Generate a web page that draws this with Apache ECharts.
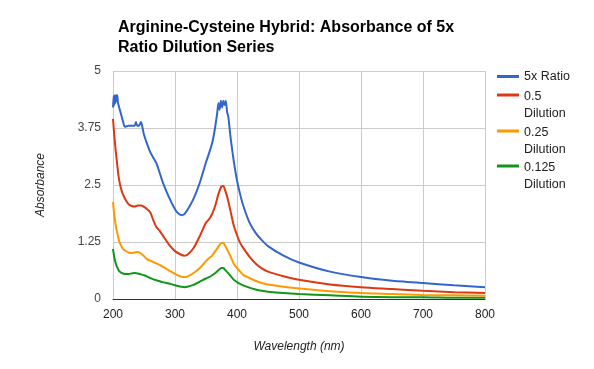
<!DOCTYPE html>
<html>
<head>
<meta charset="utf-8">
<script src="https://cdn.jsdelivr.net/npm/echarts@6/dist/echarts.min.js"></script>
<style>html,body{margin:0;padding:0;background:#fff}#c{width:594px;height:369px}</style>
</head>
<body>
<div id="c"></div>
<script>
// Blue series (noisy) has its own wavelength grid
var blueWl = [200,201,202,203,204,205,206,207,208,210,212,214,216,218,220,225,230,235,237,239,242,245,247,250,255,260,265,270,275,280,290,300,305,310,315,320,330,340,350,355,360,364,368,370,372,374,376,378,380,382,384,386,390,395,400,405,410,420,430,440,450,475,500,550,600,650,700,750,800];
var blueVals = [4.2,4.45,4.25,4.47,4.3,4.47,4.35,4.47,4.3,4.2,4.1,4.0,3.9,3.8,3.78,3.8,3.8,3.8,3.88,3.8,3.8,3.88,3.8,3.6,3.4,3.22,3.1,2.98,2.78,2.57,2.24,1.97,1.88,1.84,1.86,1.95,2.2,2.55,3.0,3.2,3.42,3.7,4.07,4.3,4.15,4.35,4.2,4.35,4.25,4.35,4.1,4.0,3.5,3.0,2.6,2.3,2.05,1.68,1.45,1.29,1.16,0.95,0.8,0.6,0.48,0.4,0.35,0.3,0.26];

var wl = [200,202,204,206,208,210,213,216,220,225,230,235,240,245,250,255,260,265,270,275,280,290,300,310,315,320,330,340,350,355,360,365,370,375,378,380,385,390,395,400,405,410,420,430,440,450,475,500,550,600,650,700,750,800];
var redVals = [3.95,3.6,3.3,3.05,2.8,2.6,2.42,2.3,2.18,2.08,2.04,2.03,2.05,2.05,2.02,1.97,1.9,1.73,1.58,1.5,1.4,1.2,1.05,0.97,0.95,0.97,1.12,1.38,1.67,1.75,1.87,2.05,2.3,2.47,2.48,2.42,2.2,1.9,1.6,1.4,1.23,1.12,0.93,0.78,0.67,0.6,0.5,0.42,0.32,0.26,0.22,0.18,0.15,0.13];
var orangeVals = [2.13,1.85,1.65,1.5,1.38,1.27,1.17,1.1,1.06,1.02,1.01,1.02,1.03,1.0,0.94,0.87,0.84,0.81,0.78,0.75,0.71,0.63,0.55,0.49,0.48,0.49,0.57,0.68,0.83,0.9,0.95,1.05,1.15,1.23,1.23,1.19,1.06,0.92,0.77,0.68,0.6,0.53,0.46,0.4,0.35,0.32,0.27,0.23,0.17,0.13,0.11,0.09,0.08,0.07];
var greenVals = [1.1,0.92,0.8,0.72,0.66,0.61,0.58,0.56,0.55,0.55,0.56,0.57,0.56,0.54,0.52,0.49,0.46,0.43,0.41,0.39,0.37,0.34,0.3,0.27,0.26,0.27,0.31,0.38,0.45,0.48,0.52,0.57,0.63,0.68,0.68,0.65,0.58,0.5,0.42,0.37,0.33,0.3,0.25,0.21,0.18,0.16,0.13,0.11,0.08,0.05,0.04,0.04,0.03,0.03];

var seriesNames = ['5x Ratio','0.5 Dilution','0.25 Dilution','0.125 Dilution'];
var legendLines = [['5x Ratio'],['0.5','Dilution'],['0.25','Dilution'],['0.125','Dilution']];
var colors = ['#3366cc','#dc3912','#ff9900','#109618'];
var xTicks = [200,800,100];
var yTicks = [0,5,1.25];

function pairs(xs, ys){ return xs.map(function(x,i){ return [x, ys[i]]; }); }

var legendTops = [68, 67.5, 103.5, 138.5];
var legends = seriesNames.map(function(n,i){
  var lines = legendLines[i];
  return {
    data:[n], left: 497, top: legendTops[i], orient:'vertical',
    icon:'rect', itemWidth:22, itemHeight:3, itemGap:0, padding:0,
    formatter: function(){
      if (lines.length === 1) return '{t|' + lines[0] + '}';
      return '{e|}\n{t|' + lines[0] + '}\n{t|' + lines[1] + '}';
    },
    textStyle:{ fontFamily:'Liberation Sans, Arial', fontSize:12.5, color:'#222', lineHeight:17,
      rich:{
        t:{ fontFamily:'Liberation Sans, Arial', fontSize:12.5, color:'#222', lineHeight:17 },
        e:{ fontSize:12.5, lineHeight:21 }
      }
    },
    selectedMode:false
  };
});

var chart = echarts.init(document.getElementById('c'), null, {renderer:'canvas'});
chart.setOption({
  animation:false,
  color: colors,
  title:{
    text:'Arginine-Cysteine Hybrid: Absorbance of 5x\nRatio Dilution Series',
    left:113, top:13,
    textStyle:{ fontFamily:'Liberation Sans, Arial', fontSize:16, fontWeight:'bold', color:'#000', lineHeight:20 }
  },
  legend: legends,
  grid:{ left:113, right:109, top:71, bottom:70, containLabel:false },
  xAxis:{
    type:'value', min:xTicks[0], max:xTicks[1], interval:xTicks[2],
    name:'Wavelength (nm)', nameLocation:'middle', nameGap:42,
    nameTextStyle:{ fontFamily:'Liberation Sans, Arial', fontSize:12, fontStyle:'italic', color:'#222' },
    axisLine:{ show:true, lineStyle:{ color:'#333', width:1 } },
    axisTick:{ show:false },
    axisLabel:{ fontFamily:'Liberation Sans, Arial', fontSize:12, color:'#222', margin:10 },
    splitLine:{ show:true, lineStyle:{ color:'#cccccc', width:1 } }
  },
  yAxis:{
    type:'value', min:yTicks[0], max:yTicks[1], interval:yTicks[2],
    name:'Absorbance', nameLocation:'middle', nameGap:66,
    nameTextStyle:{ fontFamily:'Liberation Sans, Arial', fontSize:12, fontStyle:'italic', color:'#222' },
    axisLine:{ show:false }, axisTick:{ show:false },
    axisLabel:{ fontFamily:'Liberation Sans, Arial', fontSize:12, color:'#444', margin:12 },
    splitLine:{ show:true, lineStyle:{ color:'#cccccc', width:1 } }
  },
  series:[
    { name:seriesNames[0], type:'line', data:pairs(blueWl, blueVals), showSymbol:false, smooth:0.15, lineStyle:{width:2}, z:4 },
    { name:seriesNames[1], type:'line', data:pairs(wl, redVals), showSymbol:false, smooth:0.3, lineStyle:{width:2}, z:3 },
    { name:seriesNames[2], type:'line', data:pairs(wl, orangeVals), showSymbol:false, smooth:0.3, lineStyle:{width:2}, z:2 },
    { name:seriesNames[3], type:'line', data:pairs(wl, greenVals), showSymbol:false, smooth:0.3, lineStyle:{width:2}, z:1 }
  ]
});
</script>
</body>
</html>
